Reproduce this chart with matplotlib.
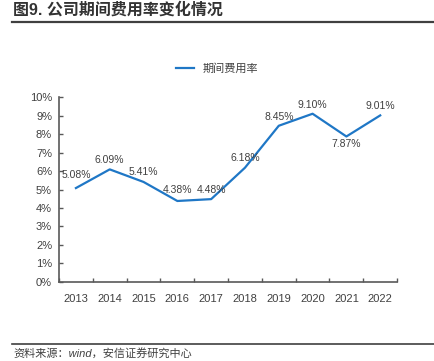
import matplotlib
matplotlib.use("Agg")
import matplotlib.pyplot as plt
from matplotlib.lines import Line2D
from matplotlib.ticker import FuncFormatter

plt.rcParams['font.family'] = ['Liberation Sans', 'Noto Sans CJK SC', 'DejaVu Sans']

# data
years = ['2013', '2014', '2015', '2016', '2017', '2018', '2019', '2020', '2021', '2022']
expense_ratio = [5.08, 6.09, 5.41, 4.38, 4.48, 6.18, 8.45, 9.10, 7.87, 9.01]
series_name = '期间费用率'
title = '图9. 公司期间费用率变化情况'
source = '资料来源：wind，安信证券研究中心'

# label offsets in points (above / below the point)
label_dy = [6, 3, 3.5, 4, 3, 3.5, 3, 3, -2, 3]

line_color = '#1F77C6'
text_color = '#404040'
spine_color = '#595959'

fig = plt.figure(figsize=(4.34, 3.61), dpi=100)
ax = fig.add_axes([0.136, 0.219, 0.779, 0.512])

x = list(range(len(years)))
ax.plot(x, expense_ratio, color=line_color, lw=1.6, label=series_name)

for xi, v, dy in zip(x, expense_ratio, label_dy):
    ax.annotate(f'{v:.2f}%', (xi, v), xytext=(0, dy), textcoords='offset points',
                ha='center', va='bottom' if dy > 0 else 'top',
                fontsize=7.5, color=text_color)

ax.set_xlim(-0.5, len(years) - 0.5)
ax.set_ylim(0, 10)
ax.set_yticks(range(0, 11))
ax.yaxis.set_major_formatter(FuncFormatter(lambda v, p: f'{v:.0f}%'))
ax.set_xticks(x)
ax.set_xticklabels(years)
ax.set_xticks([i - 0.5 for i in range(len(years) + 1)], minor=True)
ax.tick_params(axis='x', which='major', length=0, pad=9, labelsize=8, labelcolor=text_color)
ax.tick_params(axis='x', which='minor', direction='in', length=3, width=1, color=spine_color)
ax.tick_params(axis='y', direction='in', length=3, width=1, color=spine_color,
               labelsize=8, labelcolor=text_color, pad=5)

for s in ['top', 'right']:
    ax.spines[s].set_visible(False)
for s in ['left', 'bottom']:
    ax.spines[s].set_color(spine_color)
    ax.spines[s].set_linewidth(1.2)

fig.legend(loc='center', bbox_to_anchor=(0.5, 1 - 69 / 361), frameon=False,
           fontsize=8, handlelength=1.6, labelcolor=text_color)

# title and rules
fig.text(13 / 434, 1 - 10 / 361, title, fontsize=11.5, fontweight='bold',
         color='#333333', va='center', ha='left')
fig.add_artist(Line2D([12 / 434, 1.0], [1 - 22 / 361] * 2, color='#404040', lw=1.6))
fig.add_artist(Line2D([12 / 434, 1.0], [1 - 344 / 361] * 2, color='#404040', lw=1.2))
fig.text(13 / 434, 1 - 353 / 361, source, fontsize=8, style='italic',
         color='#404040', va='center', ha='left')

fig.savefig('out.png', dpi=100)
